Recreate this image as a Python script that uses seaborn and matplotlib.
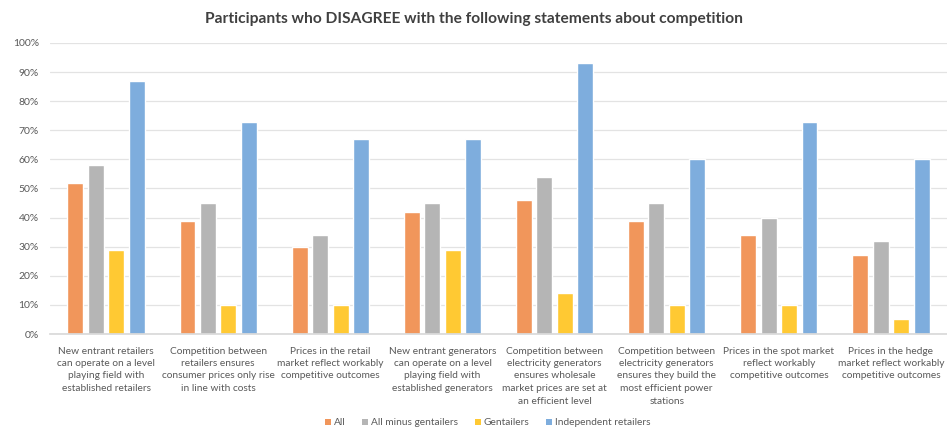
import matplotlib
matplotlib.use("Agg")
import matplotlib.pyplot as plt
import matplotlib.ticker as mtick
from matplotlib.patches import Patch
import seaborn as sns
import pandas as pd

statements = [
    "New entrant retailers\ncan operate on a level\nplaying field with\nestablished retailers",
    "Competition between\nretailers ensures\nconsumer prices only rise\nin line with costs",
    "Prices in the retail\nmarket reflect workably\ncompetitive outcomes",
    "New entrant generators\ncan operate on a level\nplaying field with\nestablished generators",
    "Competition between\nelectricity generators\nensures wholesale\nmarket prices are set at\nan efficient level",
    "Competition between\nelectricity generators\nensures they build the\nmost efficient power\nstations",
    "Prices in the spot market\nreflect workably\ncompetitive outcomes",
    "Prices in the hedge\nmarket reflect workably\ncompetitive outcomes",
]
groups = ["All", "All minus gentailers", "Gentailers", "Independent retailers"]
all_resp = [52, 39, 30, 42, 46, 39, 34, 27]
all_minus_gentailers = [58, 45, 34, 45, 54, 45, 40, 32]
gentailers = [29, 10, 10, 29, 14, 10, 10, 5]
independent_retailers = [87, 73, 67, 67, 93, 60, 73, 60]
palette = ["#F1965B", "#B5B5B5", "#FFC933", "#7EADDD"]

series = [all_resp, all_minus_gentailers, gentailers, independent_retailers]
rows = []
for g, vals in zip(groups, series):
    for s, v in zip(statements, vals):
        rows.append({"Statement": s, "Group": g, "Share": v / 100})
df = pd.DataFrame(rows)

sns.set_theme(style="white")
plt.rcParams["font.family"] = ["Lato", "DejaVu Sans"]

fig = plt.figure(figsize=(9.47, 4.32), dpi=100)
ax = fig.add_axes([50 / 947, 1 - 334 / 432, 897 / 947, (334 - 43) / 432])

sns.barplot(data=df, x="Statement", y="Share", hue="Group", hue_order=groups,
            order=statements, palette=palette, width=0.73, gap=0.22,
            saturation=1, errorbar=None, legend=False, ax=ax)

ax.set_ylim(0, 1)
ax.yaxis.set_major_locator(mtick.MultipleLocator(0.1))
ax.yaxis.set_major_formatter(mtick.PercentFormatter(1.0, decimals=0))
ax.grid(axis="y", color="#E3E3E3", linewidth=0.9)
ax.set_axisbelow(True)
for sp in ["top", "right", "left"]:
    ax.spines[sp].set_visible(False)
ax.spines["bottom"].set_color("#D9D9D9")
ax.set_xlabel("")
ax.set_ylabel("")
ax.tick_params(axis="y", length=0, labelsize=7.5, labelcolor="#595959", pad=8)
ax.tick_params(axis="x", length=0, labelsize=7.3, labelcolor="#595959", pad=9)
for t in ax.get_xticklabels():
    t.set_linespacing(1.5)
    t.set_va("top")

fig.suptitle("Participants who DISAGREE with the following statements about competition",
             x=0.5, y=0.972, fontsize=11.2, fontweight="bold", color="#404040")

handles = [Patch(facecolor=c, edgecolor="none") for c in palette]
fig.legend(handles, groups, loc="center", bbox_to_anchor=(0.515, 0.021), ncol=4,
           frameon=False, fontsize=7.3, labelcolor="#595959", handlelength=0.6,
           handleheight=0.6, handletextpad=0.3, columnspacing=1.6)

fig.savefig("out.png", dpi=100)
